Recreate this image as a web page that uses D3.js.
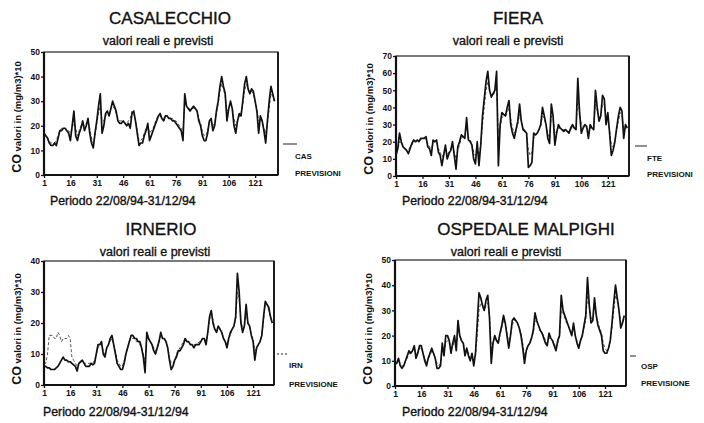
<!DOCTYPE html>
<html><head><meta charset="utf-8">
<script src="https://cdn.jsdelivr.net/npm/d3@7"></script>
<style>
body{margin:0;background:#fff}
svg{display:block}
text{font-family:"Liberation Sans",Arial,sans-serif;fill:#111}
</style>
</head><body>
<svg id="chart" width="704" height="423"></svg>
<script>
// ---------------- DATA ----------------
const days = d3.range(1, 133); // 22/08/94 .. 31/12/94
const xTickValues = [1, 16, 31, 46, 61, 76, 91, 106, 121];

const casReal = [17,16,15,13,12,12,13,12,15,18,
 18,19,19,18,17,14,20,26,16,14,
 17,19,22,18,20,23,17,13,11,17,
 22,28,33,17,20,25,26,24,27,30,
 28,26,22,21,21,22,21,20,21,19,
 25,26,22,17,12,13,13,16,18,21,
 14,16,18,20,22,24,25,23,22,24,
 24,23,23,22,22,21,20,19,18,14,
 33,28,27,26,27,28,27,26,22,20,
 16,14,14,17,22,23,18,20,26,30,
 36,40,36,33,22,27,30,27,20,17,
 22,25,24,30,37,40,35,33,35,34,
 30,26,17,24,22,18,13,22,30,36,
 33,30];
const casPrev = [17,16,15,14,13,13,13,14,16,18,
 19,19,19,18,18,17,19,22,19,16,
 18,20,21,20,21,22,19,15,13,16,
 21,25,28,22,22,24,25,25,27,28,
 27,25,23,22,22,22,21,21,22,23,
 26,25,22,18,14,14,15,17,19,20,
 17,18,19,21,23,24,24,23,23,24,
 24,23,23,23,22,22,21,20,19,18,
 29,28,27,27,27,27,27,26,23,21,
 18,16,16,18,21,22,20,21,25,29,
 34,37,35,32,26,27,29,27,23,20,
 22,24,25,29,34,37,35,34,34,33,
 30,27,22,23,22,19,17,21,27,33,
 32,30];

const fieReal = [12,16,25,20,17,16,15,13,16,19,
 21,20,21,20,22,22,22,23,17,16,
 12,21,20,21,14,12,6,12,18,10,
 13,15,20,12,4,17,20,24,23,22,
 34,21,20,18,10,7,20,6,18,35,
 45,55,61,50,46,48,50,61,6,30,
 37,36,35,40,44,30,25,22,27,32,
 42,32,27,26,25,5,6,8,25,24,
 25,27,30,40,35,30,22,19,42,35,
 18,25,30,28,27,26,27,26,25,28,
 30,28,27,57,37,25,28,30,29,22,
 30,28,27,50,40,32,35,47,45,30,
 37,25,12,15,20,28,35,40,38,22,
 30,28];
const fiePrev = [14,15,20,19,17,16,15,15,17,18,
 20,20,20,21,21,22,22,21,19,17,
 16,19,20,20,16,14,11,13,16,13,
 14,15,18,14,10,15,18,22,23,24,
 28,23,21,19,14,12,17,12,18,30,
 40,50,55,50,47,47,49,52,25,28,
 34,35,35,37,40,33,28,25,27,30,
 36,32,28,27,25,15,12,14,22,24,
 25,27,29,35,33,30,25,22,35,33,
 25,26,28,28,27,27,27,26,26,27,
 29,28,28,45,37,30,29,29,28,26,
 28,28,28,42,38,34,35,42,42,33,
 33,27,18,17,21,26,32,37,36,27,
 28,28];

const irnReal = [6,6,5.5,5.5,5,5,5,5.5,6,7,
 8,9,8,8,7.5,7.5,7,6.5,6,4.5,
 7,7.5,8,7,6,6,6,7,6.5,7,
 10,13,13,14,10,9,12,13,15,16,
 13,10,7,6,5,5,7,10,12,14,
 16,16,15,15,14,14,12,9,4,17,
 15,14,13,11,10,12,14,17,15,15,
 14,12,8,5,6,8,9,11,11,12,
 13,15,14,14,13,13,12,13,13,13,
 14,15,15,13,17,22,24,20,18,17,
 19,18,17,15,14,12,15,17,18,19,
 22,36,30,20,17,19,26,20,19,16,
 14,8,12,13,14,16,22,27,26,25,
 22,20];
const irnPrev = [7,7,10,16,16,16,15,15,17,16,
 14,15,15,15,16,15,9,8,7,6,
 7,7,8,7,7,7,7,7,7,8,
 10,12,13,13,11,10,12,13,14,15,
 13,11,8,7,6,6,8,10,12,14,
 15,15,15,14,14,13,12,10,8,15,
 15,14,13,12,11,12,14,16,15,15,
 14,12,9,7,7,8,10,11,12,13,
 14,15,14,14,13,13,13,13,13,14,
 14,15,15,14,17,21,23,21,18,17,
 18,18,17,15,14,13,15,16,18,19,
 21,30,28,21,18,19,24,20,19,16,
 15,11,12,13,14,16,21,26,26,24,
 22,20];

const ospReal = [9,9,11,8,7,8,10,12,14,13,
 14,16,11,13,16,16,13,10,8,11,
 13,15,13,11,7,7,8,17,12,20,
 20,18,13,17,20,14,26,20,18,17,
 12,15,12,10,13,8,13,25,37,35,
 32,30,34,36,27,9,17,20,18,17,
 21,24,28,25,20,15,20,26,27,26,
 25,23,20,15,9,14,16,17,19,22,
 29,26,24,22,21,19,17,16,21,19,
 18,16,14,18,20,36,30,28,26,24,
 22,20,25,20,17,15,18,20,24,28,
 43,32,25,26,35,28,24,22,20,14,
 13,13,15,18,25,33,40,35,30,23,
 25,28];
const ospPrev = [9,9,10,9,8,8,10,11,13,13,
 14,15,13,13,15,15,13,11,9,11,
 12,14,13,11,9,8,9,14,13,17,
 18,18,15,16,18,16,22,20,18,17,
 14,14,13,11,12,10,12,20,30,33,
 32,30,32,33,28,15,17,19,18,18,
 20,23,26,25,21,17,20,24,26,26,
 25,23,21,17,12,14,16,17,19,21,
 26,25,24,22,21,20,18,17,19,19,
 18,17,15,17,20,30,29,27,25,24,
 22,21,23,20,18,16,18,20,23,26,
 36,32,27,26,31,28,25,23,21,17,
 15,14,15,18,23,30,36,34,30,25,
 25,27];

const stationTitles = ["CASALECCHIO", "FIERA", "IRNERIO", "OSPEDALE MALPIGHI"];
const stationCodes = ["CAS", "FTE", "IRN", "OSP"];
const forecastLabels = ["PREVISIONI", "PREVISIONI", "PREVISIONE", "PREVISIONE"];
const yMaxValues = [50, 70, 40, 50];
const realSeries = [casReal, fieReal, irnReal, ospReal];
const prevSeries = [casPrev, fiePrev, irnPrev, ospPrev];
const subtitleText = "valori reali e previsti";
const periodText = "Periodo 22/08/94-31/12/94";
const yAxisHead = "CO";
const yAxisTail = " valori in (mg/m3)*10";

// ---------------- LAYOUT ----------------
const layout = [
  {l:44, r:278, t:52, b:175, xEnd:134, tx:170, ty:24, sx:158, sy:45, yl:21, ylc:117,
   leg:[283,297,144,"solid"], cx:295, cy:159, py:176, px:50, pdy:205},
  {l:396, r:629, t:56, b:176, xEnd:133, tx:518, ty:24, sx:508, sy:45, yl:373, ylc:119,
   leg:[635,647,146,"solid"], cx:647, cy:161, py:177, px:402, pdy:205},
  {l:44, r:274, t:261, b:385, xEnd:133, tx:161, ty:235, sx:155, sy:256, yl:21, ylc:329,
   leg:[273,288,354,"dash"], cx:289, cy:368, py:387, px:43, pdy:416},
  {l:395, r:626, t:260, b:386, xEnd:133, tx:526, ty:235, sx:506, sy:256, yl:372, ylc:329,
   leg:[630,636,356,"solid"], cx:641, cy:369, py:386, px:402, pdy:416}
];

const svg = d3.select("#chart");
const heavy = sel => sel.attr("stroke", "#111").attr("stroke-width", 0.35);

layout.forEach((L, i) => {
  const g = svg.append("g");
  const x = d3.scaleLinear().domain([1, L.xEnd]).range([L.l, L.r]);
  const y = d3.scaleLinear().domain([0, yMaxValues[i]]).range([L.b, L.t]);

  // titles
  g.append("text").attr("x", L.tx).attr("y", L.ty).attr("text-anchor", "middle")
    .style("font-size", "17px").call(heavy).text(stationTitles[i]);
  g.append("text").attr("x", L.sx).attr("y", L.sy).attr("text-anchor", "middle")
    .style("font-size", "12.5px").call(heavy).text(subtitleText);

  // frame (top thin)
  g.append("rect").attr("x", L.l).attr("y", L.t).attr("width", L.r - L.l).attr("height", L.b - L.t)
    .attr("fill", "none").attr("stroke", "#222").attr("stroke-width", 1.2);

  // series
  const line = d3.line().x((d, k) => x(days[k])).y(d => y(d));
  g.append("path").datum(prevSeries[i]).attr("d", line)
    .attr("fill", "none").attr("stroke", "#555").attr("stroke-width", 1)
    .attr("stroke-dasharray", "3,2");
  g.append("path").datum(realSeries[i]).attr("d", line)
    .attr("fill", "none").attr("stroke", "#111").attr("stroke-width", 1.7)
    .attr("stroke-linejoin", "round");

  // axes
  const xa = g.append("g").attr("transform", `translate(0,${L.b})`)
    .call(d3.axisBottom(x).tickValues(xTickValues).tickSize(3).tickPadding(2).tickFormat(d3.format("d")));
  const ya = g.append("g").attr("transform", `translate(${L.l},0)`)
    .call(d3.axisLeft(y).tickValues(d3.range(0, yMaxValues[i] + 1, 10)).tickSize(3).tickPadding(1));
  [xa, ya].forEach(a => {
    a.select(".domain").remove();
    a.selectAll("text").style("font-size", "8.5px").style("font-weight", "bold")
      .style("font-family", "'Liberation Sans',Arial,sans-serif").attr("fill", "#111");
    a.selectAll("line").attr("stroke", "#111").attr("stroke-width", 1.3);
  });
  // thick left/bottom/right lines
  g.append("line").attr("x1", L.l).attr("x2", L.l).attr("y1", L.t).attr("y2", L.b + 1)
    .attr("stroke", "#111").attr("stroke-width", 2.2);
  g.append("line").attr("x1", L.l).attr("x2", L.r).attr("y1", L.b).attr("y2", L.b)
    .attr("stroke", "#111").attr("stroke-width", 2.2);
  g.append("line").attr("x1", L.r).attr("x2", L.r).attr("y1", L.t).attr("y2", L.b)
    .attr("stroke", "#111").attr("stroke-width", 1.8);

  // y axis label
  const yl = g.append("text").attr("transform", `translate(${L.yl},${L.ylc}) rotate(-90)`)
    .attr("text-anchor", "middle").style("font-weight", "bold");
  yl.append("tspan").style("font-size", "12.5px").text(yAxisHead);
  yl.append("tspan").style("font-size", "9.5px").text(yAxisTail);

  // legend
  g.append("line").attr("x1", L.leg[0]).attr("x2", L.leg[1]).attr("y1", L.leg[2]).attr("y2", L.leg[2])
    .attr("stroke", "#222").attr("stroke-width", 1)
    .attr("stroke-dasharray", L.leg[3] === "dash" ? "2,2" : null);
  g.append("text").attr("x", L.cx).attr("y", L.cy).style("font-size", "8px").style("font-weight", "bold")
    .text(stationCodes[i]);
  g.append("text").attr("x", L.cx).attr("y", L.py).style("font-size", "8px").style("font-weight", "bold")
    .text(forecastLabels[i]);

  // period label
  g.append("text").attr("x", L.px).attr("y", L.pdy).style("font-size", "12.3px").call(heavy).text(periodText);
});
</script>
</body></html>
